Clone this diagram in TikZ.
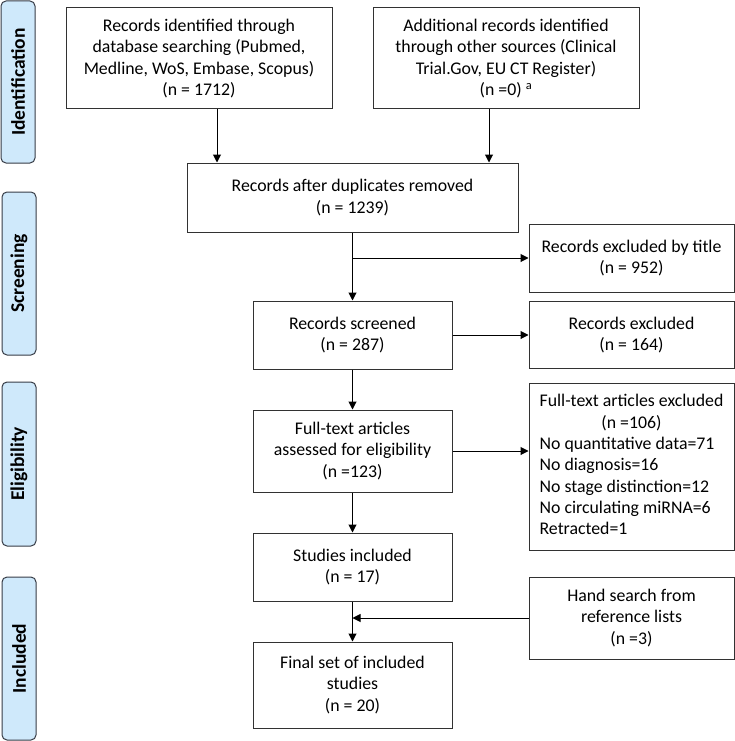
\documentclass[tikz,border=0pt]{standalone}
\usepackage{fontspec}
\setmainfont{Carlito}
\usetikzlibrary{arrows.meta}
\definecolor{sidefill}{RGB}{207,233,251}
\definecolor{sidedraw}{RGB}{55,60,70}
\definecolor{boxdraw}{RGB}{50,50,50}
\tikzset{
  sidebar/.style={draw=sidedraw, line width=1pt, fill=sidefill, rounded corners=5pt,
    minimum width=34pt, inner sep=0pt},
  sidetext/.style={rotate=90, font=\fontsize{19.5}{22}\selectfont\bfseries},
  flowbox/.style={draw=boxdraw, line width=1pt, fill=white, inner sep=2pt, align=center,
    font=\fontsize{17.8}{21.3}\selectfont},
  arr/.style={line width=1pt, -{Triangle[length=8pt,width=8pt]}}
}
\begin{document}
\begin{tikzpicture}[x=1pt,y=-1pt]
\useasboundingbox (0,0) rectangle (735,741);
% side bars
\node[sidebar, minimum height=162pt] (sid) at (18,82) {};
\node[sidetext] (sidt) at (sid.center) {Identification};
\node[sidebar, minimum height=163pt] (sscr) at (19,273.5) {};
\node[sidetext] (sscrt) at (sscr.center) {Screening};
\node[sidebar, minimum height=164pt] (seli) at (19,464) {};
\node[sidetext] (selit) at (seli.center) {Eligibility};
\node[sidebar, minimum height=163pt] (sinc) at (19,658.5) {};
\node[sidetext] (sinct) at (sinc.center) {Included};
% boxes
\node[flowbox, minimum width=266pt, minimum height=101pt] (db) at (199,58.5)
  {Records identified through\\database searching (Pubmed,\\Medline, WoS, Embase, Scopus)\\(n = 1712)};
\node[flowbox, minimum width=266pt, minimum height=101pt] (other) at (506,58.5)
  {Additional records identified\\through other sources (Clinical\\Trial.Gov, EU CT Register)\\(n =0) \textsuperscript{a}};
\node[flowbox, minimum width=331pt, minimum height=69pt] (dup) at (352.5,197.5)
  {Records after duplicates removed\\(n = 1239)};
\node[flowbox, minimum width=205pt, minimum height=68pt] (title) at (631.5,258)
  {Records excluded by title\\(n = 952)};
\node[flowbox, minimum width=199pt, minimum height=68pt] (scr) at (352.5,335)
  {Records screened\\(n = 287)};
\node[flowbox, minimum width=205pt, minimum height=67pt] (excl) at (631.5,335)
  {Records excluded\\(n = 164)};
\node[flowbox, minimum width=199pt, minimum height=82pt] (full) at (352.5,451)
  {Full-text articles\\assessed for eligibility\\(n =123)};
\node[flowbox, minimum width=205pt, minimum height=167pt] (fullex) at (631.5,466.5)
  {\begin{tabular}{@{}l@{}}Full-text articles excluded\\
   \multicolumn{1}{@{}c@{}}{(n =106)}\\
   No quantitative data=71\\
   No diagnosis=16\\
   No stage distinction=12\\
   No circulating miRNA=6\\
   Retracted=1\end{tabular}};
\node[flowbox, minimum width=199pt, minimum height=68pt] (stud) at (352.5,567)
  {Studies included\\(n = 17)};
\node[flowbox, minimum width=205pt, minimum height=82pt] (hand) at (631.5,618)
  {Hand search from\\reference lists\\(n =3)};
\node[flowbox, minimum width=199pt, minimum height=86pt] (final) at (352.5,685)
  {Final set of included\\studies\\(n = 20)};
% connectors
\draw[arr] ([xshift=18pt]db.south) -- ([xshift=18pt]db.south |- dup.north);
\draw[arr] ([xshift=-17pt]other.south) -- ([xshift=-17pt]other.south |- dup.north);
\draw[arr] (dup.south) -- (scr.north);
\draw[arr] (dup.south |- title.west) -- (title.west);
\draw[arr] (scr.east) -- (scr.east -| excl.west);
\draw[arr] (scr.south) -- (full.north);
\draw[arr] (full.east) -- (full.east -| fullex.west);
\draw[arr] (full.south) -- (stud.north);
\draw[arr] (stud.south) -- (final.north);
\draw[arr] (hand.west) -- (hand.west -| stud.south);
\end{tikzpicture}
\end{document}
